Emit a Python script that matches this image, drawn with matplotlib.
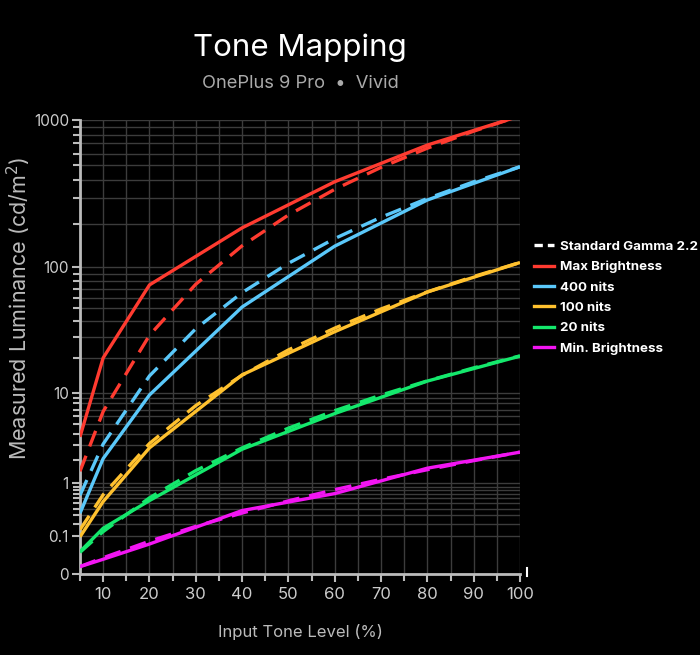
import numpy as np
import matplotlib
matplotlib.use("Agg")
import matplotlib.pyplot as plt
from matplotlib import ticker
from matplotlib.lines import Line2D

plt.rcParams['font.family'] = ['Inter', 'DejaVu Sans']

# measured points (input %, luminance in nits)
tone = [5, 10, 20, 40, 60, 80, 100]
max_brightness = [3.7, 20.2, 74.4, 189, 389, 683, 1064]
nits_400 = [0.33, 2.1, 9.6, 51, 141, 293, 490]
nits_100 = [0.097, 0.53, 2.8, 14.5, 32.9, 66, 108]
nits_20 = [0.031, 0.16, 0.55, 2.7, 6.4, 12.8, 20.9]
min_brightness = [0.0033, 0.0129, 0.059, 0.37, 0.71, 1.6, 2.5]

# gamma 2.2 targets
gamma_tone = [5, 10, 20, 30, 40, 50, 60, 70, 80, 90, 100]
gamma_max = [1.46, 6.71, 30.8, 75.3, 141.7, 231.6, 345.9, 485.5, 651.3, 843.9, 1064]
gamma_400 = [0.67, 3.09, 14.2, 34.7, 65.3, 106.6, 159.3, 223.6, 299.9, 388.6, 490]
gamma_100 = [0.148, 0.681, 3.13, 7.64, 14.4, 23.5, 35.1, 49.3, 66.1, 85.7, 108]
gamma_20 = [0.0288, 0.133, 0.609, 1.49, 2.80, 4.57, 6.83, 9.58, 12.85, 16.66, 21]
gamma_min = [0.00343, 0.0158, 0.0725, 0.177, 0.333, 0.544, 0.813, 1.141, 1.530, 1.983, 2.5]

series = [
    ("Max Brightness", max_brightness, gamma_max, "#FF3B30"),
    ("400 nits", nits_400, gamma_400, "#5AC8FA"),
    ("100 nits", nits_100, gamma_100, "#FFC12E"),
    ("20 nits", nits_20, gamma_20, "#14E86C"),
    ("Min. Brightness", min_brightness, gamma_min, "#F215F2"),
]

y_major = [0, 0.1, 1, 10, 100, 1000]
y_labels = ["0", "0.1", "1", "10", "100", "1000"]

# SMPTE ST 2084 (PQ) constants
m1, m2 = 0.1593017578125, 78.84375
c1, c2, c3 = 0.8359375, 18.8515625, 18.6875


def pq(L):
    Y = np.clip(np.asarray(L, dtype=float), 0, None) / 10000.0
    Ym = Y ** m1
    return ((c1 + c2 * Ym) / (1 + c3 * Ym)) ** m2


def pq_inv(E):
    E = np.clip(np.asarray(E, dtype=float), 0, 1)
    V = E ** (1 / m2)
    num = np.clip(V - c1, 0, None)
    den = c2 - c3 * V
    return 10000.0 * (num / den) ** (1 / m1)


fig = plt.figure(figsize=(7, 6.55), dpi=100, facecolor="black")
ax = fig.add_axes([80 / 700, 1 - 574 / 655, 440 / 700, 454 / 655])
ax.set_facecolor("black")
ax.set_yscale("function", functions=(pq, pq_inv))

for name, meas, gam, col in series:
    ax.plot(gamma_tone, gam, color=col, lw=2.4, dashes=(5, 3), zorder=3)
    ax.plot(tone, meas, color=col, lw=2.4, zorder=4, solid_capstyle="butt")

ax.set_xlim(5, 100)
ax.set_ylim(0, 1000)

ax.xaxis.set_major_locator(ticker.FixedLocator(range(10, 101, 10)))
ax.xaxis.set_minor_locator(ticker.FixedLocator(range(5, 100, 10)))
ax.yaxis.set_major_locator(ticker.FixedLocator(y_major))
ax.yaxis.set_major_formatter(ticker.FixedFormatter(y_labels))
minors = [m * d for d in (0.1, 1, 10, 100) for m in range(2, 10)]
ax.yaxis.set_minor_locator(ticker.FixedLocator(minors))
ax.yaxis.set_minor_formatter(ticker.NullFormatter())

ax.grid(which="both", color="#3c3c3c", lw=1, zorder=0)
for s in ("top", "right"):
    ax.spines[s].set_visible(False)
for s in ("left", "bottom"):
    ax.spines[s].set_color("#bbbbbb")
    ax.spines[s].set_linewidth(2)

ax.tick_params(which="both", colors="#bbbbbb", width=1.5)
ax.tick_params(which="major", length=6, labelsize=12, labelcolor="#cccccc")
ax.tick_params(which="minor", length=5)
ax.tick_params(axis="y", which="major", labelsize=11, pad=2)

ax.set_xlabel("Input Tone Level (%)", color="#bbbbbb", fontsize=12, labelpad=16)
ax.set_ylabel("Measured Luminance (cd/m$^2$)", color="#bbbbbb", fontsize=15.5)
ax.yaxis.set_label_coords(-0.107, 0.586)

fig.text(300 / 700, 1 - 48 / 655, "Tone Mapping", color="white", fontsize=22.5,
         ha="center", va="center")
fig.text(300 / 700, 1 - 84 / 655, "OnePlus 9 Pro  \u2022  Vivid", color="#aaaaaa",
         fontsize=13.2, ha="center", va="center")

handles = [Line2D([], [], color="white", lw=2.4, dashes=(2.5, 1.5))]
labels = ["Standard Gamma 2.2"]
for name, meas, gam, col in series:
    handles.append(Line2D([], [], color=col, lw=2.4))
    labels.append(name)
leg = ax.legend(handles, labels, loc="center left", bbox_to_anchor=(1.005, 0.609),
                frameon=False, handlelength=1.5, handletextpad=0.45,
                labelspacing=0.6, prop={"size": 9.6, "weight": "bold"})
for t in leg.get_texts():
    t.set_color("white")

fig.add_artist(Line2D([527 / 700, 527 / 700], [1 - 576 / 655, 1 - 568 / 655],
                      color="white", lw=1.5))

fig.savefig("out.png", dpi=100, facecolor="black")
